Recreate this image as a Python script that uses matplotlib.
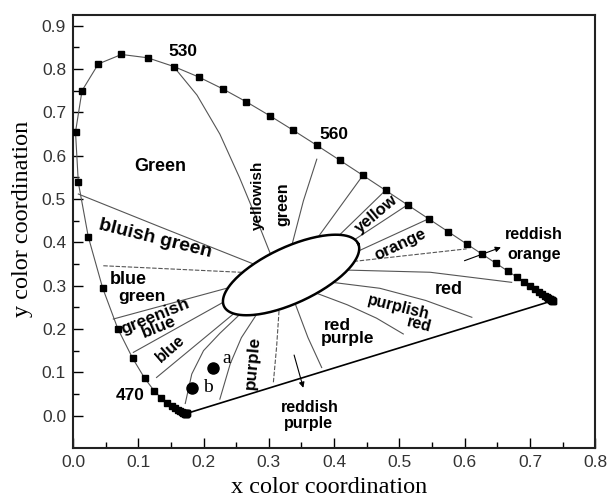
import numpy as np
import matplotlib
matplotlib.use('Agg')
from matplotlib import pyplot as plt

#### spectral locus (CIE 1931, 5 nm steps, 380-700 nm)
wl = list(range(380, 705, 5))
locus_x = [0.1741, 0.1740, 0.1738, 0.1736, 0.1733, 0.1730, 0.1726, 0.1721, 0.1714, 0.1703,
           0.1689, 0.1669, 0.1644, 0.1611, 0.1566, 0.1510, 0.1440, 0.1355, 0.1241, 0.1096,
           0.0913, 0.0687, 0.0454, 0.0235, 0.0082, 0.0039, 0.0139, 0.0389, 0.0743, 0.1142,
           0.1547, 0.1929, 0.2296, 0.2658, 0.3016, 0.3373, 0.3731, 0.4087, 0.4441, 0.4788,
           0.5125, 0.5448, 0.5752, 0.6029, 0.6270, 0.6482, 0.6658, 0.6801, 0.6915, 0.7006,
           0.7079, 0.7140, 0.7190, 0.7230, 0.7260, 0.7283, 0.7300, 0.7311, 0.7320, 0.7327,
           0.7334, 0.7340, 0.7344, 0.7346, 0.7347]
locus_y = [0.0050, 0.0050, 0.0049, 0.0049, 0.0048, 0.0048, 0.0048, 0.0048, 0.0051, 0.0058,
           0.0069, 0.0086, 0.0109, 0.0138, 0.0177, 0.0227, 0.0297, 0.0399, 0.0578, 0.0868,
           0.1327, 0.2007, 0.2950, 0.4127, 0.5384, 0.6548, 0.7502, 0.8120, 0.8338, 0.8262,
           0.8059, 0.7816, 0.7543, 0.7243, 0.6923, 0.6589, 0.6245, 0.5896, 0.5547, 0.5202,
           0.4866, 0.4544, 0.4242, 0.3965, 0.3725, 0.3514, 0.3340, 0.3197, 0.3083, 0.2993,
           0.2920, 0.2859, 0.2809, 0.2770, 0.2740, 0.2717, 0.2700, 0.2689, 0.2680, 0.2673,
           0.2666, 0.2660, 0.2656, 0.2654, 0.2653]

#### region boundaries
bounds_solid = [
    ([0.153, 0.19, 0.225, 0.255, 0.277, 0.302], [0.808, 0.74, 0.65, 0.55, 0.47, 0.375]),
    ([0.3735, 0.353, 0.333], [0.592, 0.496, 0.380]),
    ([0.4441, 0.372], [0.5547, 0.405]),
    ([0.4788, 0.400], [0.5202, 0.405]),
    ([0.5125, 0.420], [0.4866, 0.395]),
    ([0.5448, 0.430], [0.4544, 0.375]),
    ([0.420, 0.547, 0.672], [0.336, 0.331, 0.3077]),
    ([0.385, 0.47, 0.540, 0.611], [0.310, 0.294, 0.266, 0.227]),
    ([0.360, 0.42, 0.465, 0.506], [0.290, 0.256, 0.225, 0.1885]),
    ([0.340, 0.360, 0.381], [0.260, 0.180, 0.111]),
    ([0.284, 0.258, 0.241, 0.225], [0.240, 0.18, 0.12, 0.038]),
    ([0.260, 0.225, 0.200, 0.182, 0.172], [0.240, 0.19, 0.15, 0.096, 0.028]),
    ([0.250, 0.128], [0.240, 0.088]),
    ([0.240, 0.0925], [0.270, 0.146]),
    ([0.250, 0.0618], [0.300, 0.223]),
    ([0.0082, 0.133, 0.285], [0.5116, 0.436, 0.345]),
]
bounds_dashed = [
    ([0.0465, 0.270], [0.346, 0.330]),
    ([0.430, 0.603], [0.356, 0.385]),
    ([0.307, 0.312, 0.316], [0.077, 0.16, 0.250]),
]

#### achromatic ellipse (centre and two conjugate half axes)
ell_c = (0.3341, 0.3247)
ell_u = (0.1028, 0.0722)
ell_v = (-0.0181, 0.0586)

#### samples a and b
pts_x = [0.215, 0.182]
pts_y = [0.110, 0.063]

plt.figure(1, figsize=[6.08, 4.99], dpi=100)
ax = plt.axes([0.12, 0.102, 0.859, 0.868])

gray = '#555555'
ax.plot(locus_x, locus_y, '-', color=gray, lw=0.8, zorder=2)
ax.plot(locus_x, locus_y, 's', color='black', ms=4.5, zorder=3)
ax.plot([locus_x[0], locus_x[-1]], [locus_y[0], locus_y[-1]], '-', color='black', lw=1.2)

for xs, ys in bounds_solid:
    ax.plot(xs, ys, '-', color=gray, lw=0.8)
for xs, ys in bounds_dashed:
    ax.plot(xs, ys, color=gray, lw=0.8, ls=(0, (4, 1.5)))

t = np.linspace(0, 2 * np.pi, 200)
ex = ell_c[0] + np.cos(t) * ell_u[0] + np.sin(t) * ell_v[0]
ey = ell_c[1] + np.cos(t) * ell_u[1] + np.sin(t) * ell_v[1]
ax.fill(ex, ey, color='white', zorder=4)
ax.plot(ex, ey, color='black', lw=1.8, zorder=5)

ax.plot(pts_x, pts_y, 'o', color='black', ms=8, zorder=6)

#### labels
bold = dict(family='Liberation Sans', fontweight='bold', fontsize=11.5, ha='center', va='center')
ax.text(0.168, 0.840, '530', **dict(bold, fontsize=12.5))
ax.text(0.399, 0.650, '560', **dict(bold, fontsize=12.5))
ax.text(0.087, 0.046, '470', **dict(bold, fontsize=12.5))
ax.text(0.133, 0.575, 'Green', **dict(bold, fontsize=13))
ax.text(0.284, 0.508, 'yellowish', rotation=90, **dict(bold, fontsize=11))
ax.text(0.322, 0.487, 'green', rotation=90, **bold)
ax.text(0.126, 0.408, 'bluish green', rotation=-14, **dict(bold, fontsize=14))
ax.text(0.085, 0.314, 'blue', **dict(bold, fontsize=13))
ax.text(0.105, 0.275, 'green', **dict(bold, fontsize=12.5))
ax.text(0.126, 0.228, 'greenish', rotation=22, **dict(bold, fontsize=12.5))
ax.text(0.131, 0.204, 'blue', rotation=22, **dict(bold, fontsize=12.5))
ax.text(0.149, 0.154, 'blue', rotation=41, **bold)
ax.text(0.276, 0.123, 'purple', rotation=85, **dict(bold, fontsize=12.5))
ax.text(0.405, 0.208, 'red', **dict(bold, fontsize=12.5))
ax.text(0.420, 0.177, 'purple', **dict(bold, fontsize=12.5))
ax.text(0.499, 0.250, 'purplish', rotation=-14, **bold)
ax.text(0.530, 0.209, 'red', rotation=-14, **bold)
ax.text(0.575, 0.292, 'red', **dict(bold, fontsize=13))
ax.text(0.501, 0.396, 'orange', rotation=25, **dict(bold, fontsize=12))
ax.text(0.465, 0.465, 'yellow', rotation=40, **dict(bold, fontsize=12))
ax.text(0.706, 0.419, 'reddish', **bold)
ax.text(0.706, 0.373, 'orange', **bold)
ax.text(0.363, 0.019, 'reddish', **bold)
ax.text(0.360, -0.019, 'purple', **bold)

ax.annotate('', xy=(0.354, 0.058), xytext=(0.3376, 0.146),
            arrowprops=dict(arrowstyle='-|>', color='black', lw=0.8, mutation_scale=8))
ax.annotate('', xy=(0.6595, 0.3907), xytext=(0.5957, 0.3554),
            arrowprops=dict(arrowstyle='-|>', color='black', lw=0.8, mutation_scale=8))

serif = dict(family='Liberation Serif', fontsize=14, ha='center', va='center')
ax.text(0.2355, 0.132, 'a', **serif)
ax.text(0.207, 0.064, 'b', **serif)

#### axes
ax.set_xlim(0, 0.8)
ax.set_ylim(-0.075, 0.925)
ax.set_xticks(np.arange(0, 0.81, 0.1))
ax.set_yticks(np.arange(0, 0.91, 0.1))
ax.set_xticks(np.arange(0.05, 0.8, 0.1), minor=True)
ax.set_yticks(np.arange(0.05, 0.9, 0.1), minor=True)
ax.set_xticklabels(['%.1f' % v for v in np.arange(0, 0.81, 0.1)])
ax.set_yticklabels(['%.1f' % v for v in np.arange(0, 0.91, 0.1)])
ax.tick_params(which='both', direction='in', top=False, right=False,
               labelsize=12.5, labelcolor='#333333', pad=5)
ax.tick_params(which='major', length=7, width=1)
ax.tick_params(which='minor', length=4, width=1)
for lab in ax.get_xticklabels() + ax.get_yticklabels():
    lab.set_family('Liberation Sans')
for s in ax.spines.values():
    s.set_linewidth(1.5)
    s.set_color('#222222')

ax.set_xlabel('x color coordination', family='Liberation Serif', fontsize=17.5, va='baseline')
ax.set_ylabel('y color coordination', family='Liberation Serif', fontsize=17.5)
ax.xaxis.set_label_coords(0.49, -0.104)
ax.yaxis.set_label_coords(-0.077, 0.53)

plt.savefig('out.png', dpi=100)
